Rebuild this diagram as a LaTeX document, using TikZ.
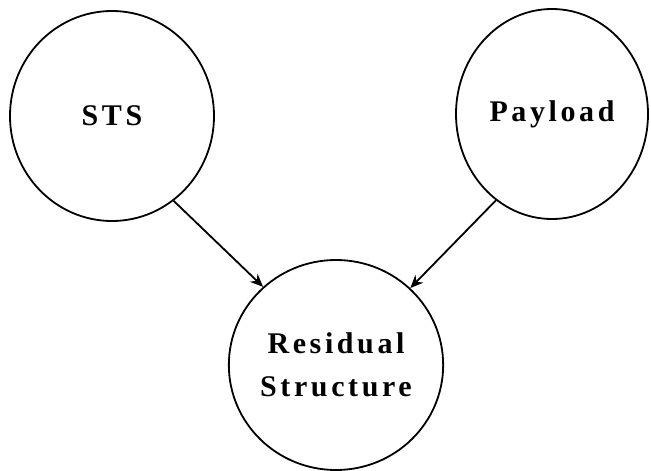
\documentclass[tikz,border=0pt]{standalone}
\usepackage{fontspec}
\setmainfont{Liberation Serif}[LetterSpace=12]
\usetikzlibrary{shapes.geometric,arrows.meta}
\tikzset{blob/.style={ellipse, draw, line width=1.8pt, inner sep=0pt,
         minimum width=200pt, minimum height=210pt, align=center,
         font=\bfseries\fontsize{30}{43}\selectfont},
         link/.style={line width=1.8pt, -{Stealth[length=13pt,width=11pt]}}}

\begin{document}
\begin{tikzpicture}[x=1pt,y=-1pt]
  \useasboundingbox (0,0) rectangle (651,471);
  \node[blob, minimum width=204pt] (sts) at (112,116) {STS};
  \node[blob, minimum width=192pt] (pay) at (552,114) {Payload};
  \node[blob] (res) at (336,365) {Residual\\Structure};
  \draw[link] (sts.-54) -- (res.133);
  \draw[link] (pay.-123) -- (res.46);
\end{tikzpicture}
\end{document}
